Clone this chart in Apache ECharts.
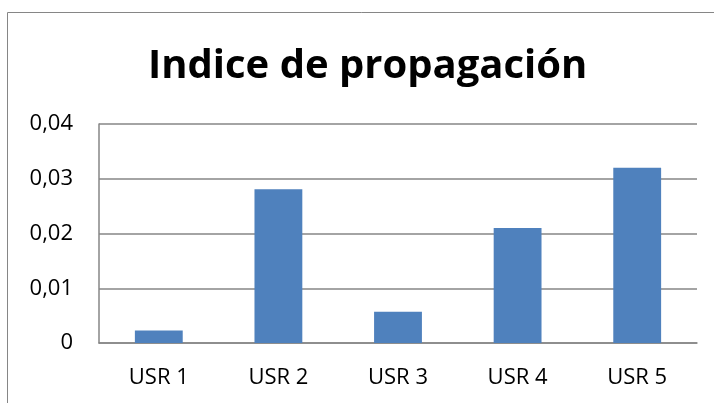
<!DOCTYPE html>
<html><head><meta charset="utf-8">
<script src="https://cdn.jsdelivr.net/npm/echarts@6/dist/echarts.min.js"></script>
<style>html,body{margin:0;padding:0;background:#fff}#c{width:714px;height:403px}</style>
</head><body><div id="c"></div>
<script>
const categories = ['USR 1','USR 2','USR 3','USR 4','USR 5'];
const values = [0.0023, 0.0281, 0.0057, 0.021, 0.032];
const titleText = 'Indice de propagación';
const chart = echarts.init(document.getElementById('c'));
chart.setOption({
  animation:false,
  backgroundColor:'#fff',
  graphic:[{type:'rect',shape:{x:7.5,y:12.5,width:720,height:400},style:{fill:'none',stroke:'#868686',lineWidth:1}}],
  title:{text:titleText,left:143,top:42,textStyle:{fontFamily:'Open Sans',fontWeight:'bold',fontSize:40,color:'#000'}},
  grid:{left:99,right:17,top:124,bottom:60},
  xAxis:{type:'category',data:categories,
    axisLine:{lineStyle:{color:'#868686',width:1.5}},axisTick:{show:false},
    axisLabel:{fontFamily:'Open Sans',fontSize:22,color:'#000',margin:24}},
  yAxis:{type:'value',min:0,max:0.04,interval:0.01,
    axisLine:{show:true,lineStyle:{color:'#868686',width:1.5}},axisTick:{show:false},
    splitLine:{lineStyle:{color:'#868686',width:1.5}},
    axisLabel:{fontFamily:'Open Sans',fontSize:22,color:'#000',margin:26,
      formatter:v=>v===0?'0':v.toFixed(2).replace('.',',')}},
  series:[{type:'bar',data:values,barWidth:'40%',itemStyle:{color:'#4F81BD'}}]
});
</script></body></html>
